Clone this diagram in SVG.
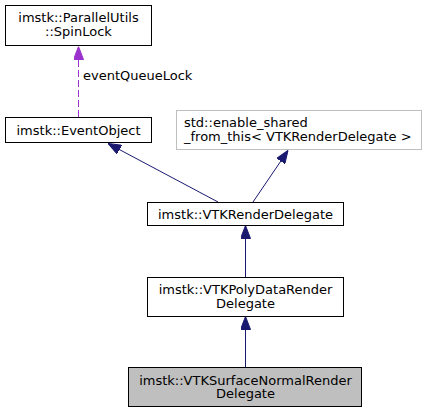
<svg xmlns="http://www.w3.org/2000/svg" width="432" height="413" viewBox="0 0 432 413">
<style>
.box{fill:#ffffff;stroke:#000000;stroke-width:1}
.ext{fill:#ffffff;stroke:#bfbfbf;stroke-width:1}
.cur{fill:#bfbfbf;stroke:#000000;stroke-width:1}
text{font-family:"DejaVu Sans","Liberation Sans",sans-serif;font-size:13px;fill:#000000}
.c{text-anchor:middle}
.inh{stroke:#191970;stroke-width:1;fill:none;marker-end:url(#ah)}
.use{stroke:#9a32cd;stroke-width:1;fill:none;stroke-dasharray:7,3;marker-end:url(#ap)}
</style>
<defs>
<marker id="ah" viewBox="0 0 13 10" refX="13" refY="5" markerWidth="13" markerHeight="10" markerUnits="userSpaceOnUse" orient="auto">
<path d="M0,0 L13,5 L0,10 z" fill="#191970" stroke="#191970" stroke-width="1"/>
</marker>
<marker id="ap" viewBox="0 0 13 10" refX="13" refY="5" markerWidth="13" markerHeight="10" markerUnits="userSpaceOnUse" orient="auto">
<path d="M0,0 L13,5 L0,10 z" fill="#9a32cd" stroke="#9a32cd" stroke-width="1"/>
</marker>
</defs>
<g id="connectors">
<line class="use" x1="78.5" y1="117" x2="78.5" y2="46.5"/>
<text x="83" y="80">eventQueueLock</text>
<line class="inh" x1="218" y1="202" x2="108" y2="143.5"/>
<line class="inh" x1="253" y1="202" x2="288" y2="150.5"/>
<line class="inh" x1="245.5" y1="277" x2="245.5" y2="225.5"/>
<line class="inh" x1="245.5" y1="367" x2="245.5" y2="316.5"/>
</g>
<g id="node_spinlock">
<rect class="box" x="5.5" y="5.5" width="146" height="40"/>
<text class="c" x="78.5" y="22">imstk::ParallelUtils</text>
<text class="c" x="78.5" y="36">::SpinLock</text>
</g>
<g id="node_eventobject">
<rect class="box" x="5.5" y="117.5" width="146" height="25"/>
<text class="c" x="78.5" y="134.5">imstk::EventObject</text>
</g>
<g id="node_enable_shared">
<rect class="ext" x="176.5" y="110.5" width="245" height="39"/>
<text x="184" y="127">std::enable_shared</text>
<text x="184" y="141">_from_this&lt; VTKRenderDelegate &gt;</text>
</g>
<g id="node_vtkrenderdelegate">
<rect class="box" x="147.5" y="202.5" width="196" height="23"/>
<text class="c" x="245.5" y="218.5">imstk::VTKRenderDelegate</text>
</g>
<g id="node_polydata">
<rect class="box" x="147.5" y="277.5" width="196" height="39"/>
<text class="c" x="245.5" y="294">imstk::VTKPolyDataRender</text>
<text class="c" x="245.5" y="307.5">Delegate</text>
</g>
<g id="node_surfacenormal">
<rect class="cur" x="128.5" y="367.5" width="233" height="39"/>
<text class="c" x="245.5" y="384.5">imstk::VTKSurfaceNormalRender</text>
<text class="c" x="245.5" y="398">Delegate</text>
</g>
</svg>
